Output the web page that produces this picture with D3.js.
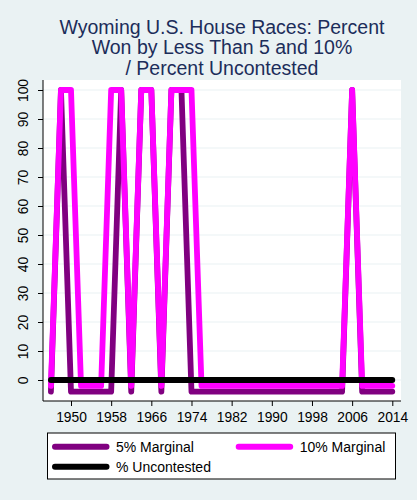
<!DOCTYPE html>
<html>
<head>
<meta charset="utf-8">
<script src="https://cdn.jsdelivr.net/npm/d3@7/dist/d3.min.js"></script>
<style>
  html, body { margin: 0; padding: 0; background: #EAF2F3; }
  svg { display: block; font-family: "Liberation Sans", Arial, sans-serif; }
</style>
</head>
<body>
<svg id="chart" width="417" height="500"></svg>
<script>
// ---- data (zero values drawn offset as in the original) ----
const years = [1946,1948,1950,1952,1954,1956,1958,1960,1962,1964,1966,1968,1970,1972,1974,1976,1978,1980,1982,1984,1986,1988,1990,1992,1994,1996,1998,2000,2002,2004,2006,2008,2010,2012,2014];
const marginal5  = [-4,100,-4,-4,-4,-4,-4,100,-4,100,100,-4,100,100,-4,-4,-4,-4,-4,-4,-4,-4,-4,-4,-4,-4,-4,-4,-4,-4,100,-4,-4,-4,-4];
const marginal10 = [-2,100,100,-2,-2,-2,100,100,-2,100,100,-2,100,100,100,-2,-2,-2,-2,-2,-2,-2,-2,-2,-2,-2,-2,-2,-2,-2,100,-2,-2,-2,-2];
const uncontested = [0,0,0,0,0,0,0,0,0,0,0,0,0,0,0,0,0,0,0,0,0,0,0,0,0,0,0,0,0,0,0,0,0,0,0];
const yTicks = [0,10,20,30,40,50,60,70,80,90,100];
const xTicks = [1950,1958,1966,1974,1982,1990,1998,2006,2014];
const titleLines = ["Wyoming U.S. House Races: Percent", "Won by Less Than 5 and 10%", "/ Percent Uncontested"];
const seriesNames = ["5% Marginal", "10% Marginal", "% Uncontested"];
const seriesColors = ["#800080", "#FF00FF", "#000000"];

// ---- layout ----
const svg = d3.select("#chart");
const plot = {left: 43, right: 401, top: 80, bottom: 401};
const x = d3.scaleLinear().domain([1950, 2014]).range([71, 392.3]);
const y = d3.scaleLinear().domain([0, 100]).range([380, 90]);

// background
svg.append("rect").attr("width", 417).attr("height", 500).attr("fill", "#EAF2F3");
svg.append("rect")
  .attr("x", plot.left).attr("y", plot.top)
  .attr("width", plot.right - plot.left).attr("height", plot.bottom - plot.top)
  .attr("fill", "#FFFFFF");

// gridlines
svg.append("g").selectAll("line").data(yTicks).join("line")
  .attr("x1", plot.left).attr("x2", plot.right)
  .attr("y1", d => y(d)).attr("y2", d => y(d))
  .attr("stroke", "#EAF2F3").attr("stroke-width", 1.2);

// title
svg.append("g").selectAll("text").data(titleLines).join("text")
  .attr("x", (plot.left + plot.right) / 2)
  .attr("y", (d, i) => 33.5 + i * 20.5)
  .attr("text-anchor", "middle")
  .attr("font-size", 19.5)
  .attr("fill", "#1C2D5A")
  .text(d => d);

// series lines
const series = [marginal5, marginal10, uncontested];
const line = d3.line().x((d, i) => x(years[i])).y(d => y(d));
svg.append("g").selectAll("path").data(series).join("path")
  .attr("d", d => line(d))
  .attr("fill", "none")
  .attr("stroke", (d, i) => seriesColors[i])
  .attr("stroke-width", 5.8)
  .attr("stroke-linejoin", "round")
  .attr("stroke-linecap", "round");

// axes
const yAxis = d3.axisLeft(y).tickValues(yTicks).tickSize(5).tickPadding(0).tickFormat(d3.format("d"));
const gy = svg.append("g").attr("transform", `translate(${plot.left},0)`).call(yAxis);
gy.select(".domain").attr("d", `M0,${plot.top}V${plot.bottom}`).attr("stroke", "#000");
gy.selectAll(".tick line").attr("stroke", "#000");
gy.selectAll(".tick text")
  .attr("x", null).attr("dy", null)
  .attr("transform", "translate(-15,0) rotate(-90)")
  .attr("text-anchor", "middle")
  .attr("font-size", 13.8)
  .attr("font-family", "Liberation Sans, Arial, sans-serif")
  .attr("fill", "#000");

const xAxis = d3.axisBottom(x).tickValues(xTicks).tickSize(5).tickPadding(6).tickFormat(d3.format("d"));
const gx = svg.append("g").attr("transform", `translate(0,${plot.bottom})`).call(xAxis);
gx.select(".domain").attr("d", `M${plot.left},0H${plot.right}`).attr("stroke", "#000");
gx.selectAll(".tick line").attr("stroke", "#000");
gx.selectAll(".tick text")
  .attr("font-size", 13.8)
  .attr("font-family", "Liberation Sans, Arial, sans-serif")
  .attr("fill", "#000");

// legend
const lg = svg.append("g");
lg.append("rect").attr("x", 47.5).attr("y", 433).attr("width", 348).attr("height", 46)
  .attr("fill", "#FFFFFF").attr("stroke", "#000").attr("stroke-width", 1);
const legendPos = [{x: 55, y: 446.7}, {x: 238.7, y: 446.7}, {x: 55, y: 466.7}];
const items = lg.selectAll("g.item").data(seriesNames).join("g").attr("class", "item")
  .attr("transform", (d, i) => `translate(${legendPos[i].x},${legendPos[i].y})`);
items.append("line").attr("x1", 0).attr("x2", 51.5).attr("y1", 0).attr("y2", 0)
  .attr("stroke", (d, i) => seriesColors[i]).attr("stroke-width", 6).attr("stroke-linecap", "round");
items.append("text").attr("x", 61).attr("y", 0).attr("dy", "0.35em")
  .attr("font-size", 14).attr("fill", "#000").text(d => d);
</script>
</body>
</html>
